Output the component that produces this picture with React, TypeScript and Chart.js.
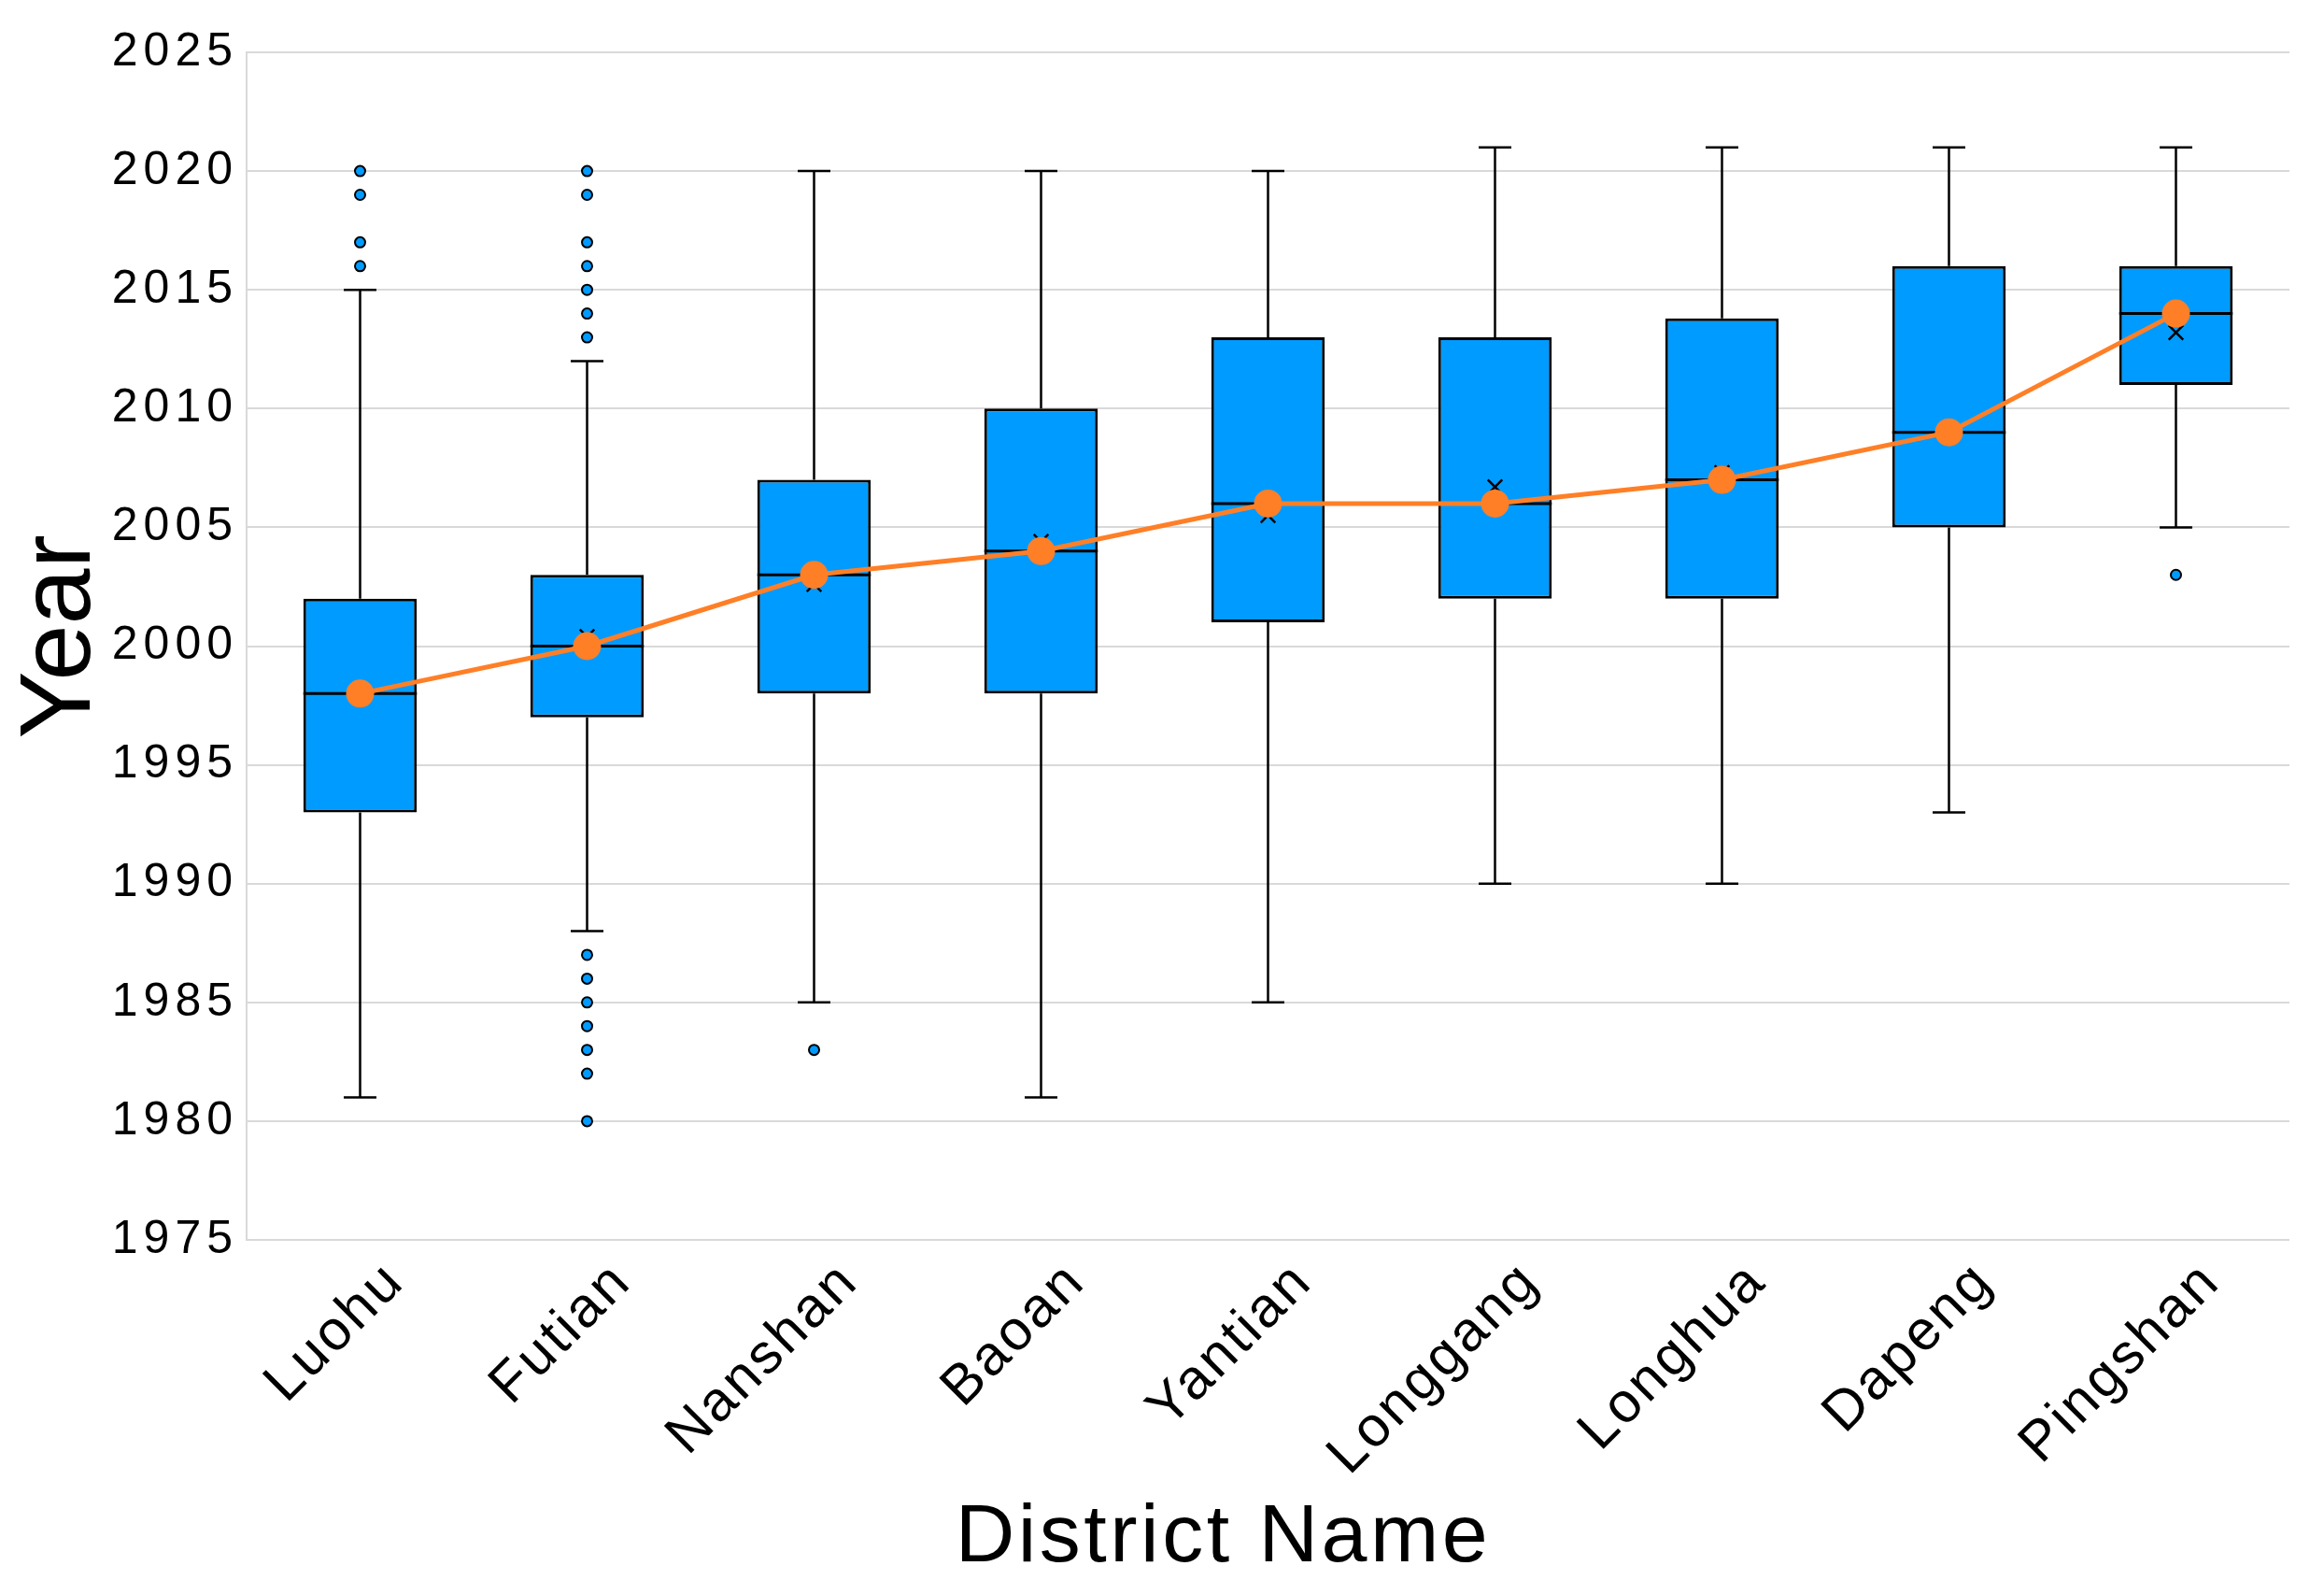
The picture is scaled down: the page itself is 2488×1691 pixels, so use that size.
import React, { useEffect, useRef } from 'react';
import { Chart, registerables } from 'chart.js';

Chart.register(...registerables);

// ---- Data ----
const categories = ['Luohu', 'Futian', 'Nanshan', 'Baoan', 'Yantian', 'Longgang', 'Longhua', 'Dapeng', 'Pingshan'];
const whiskerLow = [1981, 1988, 1985, 1981, 1985, 1990, 1990, 1993, 2005];
const q1 = [1993, 1997, 1998, 1998, 2001, 2002, 2002, 2005, 2011];
const median = [1998, 2000, 2003, 2004, 2006, 2006, 2007, 2009, 2014];
const q3 = [2002, 2003, 2007, 2010, 2013, 2013, 2013.8, 2016, 2016];
const whiskerHigh = [2015, 2012, 2020, 2020, 2020, 2021, 2021, 2021, 2021];
const mean = [1997.9, 2000.4, 2002.6, 2004.4, 2005.5, 2006.7, 2007.3, 2009.1, 2013.2];
const outliers = [
  [2016, 2017, 2019, 2020],
  [1980, 1982, 1983, 1984, 1985, 1986, 1987, 2013, 2014, 2015, 2016, 2017, 2019, 2020],
  [1983],
  [],
  [],
  [],
  [],
  [],
  [2003],
];
const yTicks = { min: 1975, max: 2025, step: 5 };
const xTitle = 'District Name';
const yTitle = 'Year';

// ---- Styles ----
const FONT = '"Liberation Sans", Arial, Helvetica, sans-serif';
const BLUE = '#009BFF';
const ORANGE = '#FF7F27';
const GRID = '#d9d9d9';
const CAP = 35;

export default function App() {
  const ref = useRef<HTMLCanvasElement>(null);

  useEffect(() => {
    const canvas = ref.current;
    if (!canvas) return;

    const outlierPoints = categories.flatMap((c, i) => outliers[i].map((v) => ({ x: c, y: v })));

    const spacingPlugin = {
      id: 'tickSpacing',
      beforeDraw(chart: any) {
        const patch = (id: string, sp: string) => {
          const s: any = chart.scales[id];
          if (!s || s.__patched) return;
          const orig = s.drawLabels;
          s.drawLabels = function (area: any) {
            const c = this.ctx;
            c.save();
            c.letterSpacing = sp;
            orig.call(this, area);
            c.restore();
          };
          s.__patched = true;
        };
        patch('x', '3px');
        patch('y', '6px');
      },
    };

    const titlePlugin = {
      id: 'axisTitles',
      afterDraw(chart: any) {
        const { ctx, chartArea } = chart;
        ctx.save();
        ctx.fillStyle = '#000';
        ctx.textBaseline = 'middle';
        ctx.textAlign = 'center';
        // x-axis title
        ctx.font = `88px ${FONT}`;
        (ctx as any).letterSpacing = '3.5px';
        const cx = (chartArea.left + chartArea.right) / 2 - 48;
        ctx.fillText(xTitle, cx, 1647);
        // y-axis title
        (ctx as any).letterSpacing = '0px';
        ctx.font = `108px ${FONT}`;
        ctx.translate(66, (chartArea.top + chartArea.bottom) / 2 - 10);
        ctx.rotate(-Math.PI / 2);
        ctx.fillText(yTitle, 0, 0);
        ctx.restore();
      },
    };

    const boxPlugin = {
      id: 'boxWhiskers',
      beforeDatasetsDraw(chart: any) {
        const { ctx, scales } = chart;
        const xs = scales.x;
        const ys = scales.y;
        ctx.save();
        ctx.strokeStyle = '#000';
        ctx.lineWidth = 2.5;
        categories.forEach((_, i) => {
          const px = xs.getPixelForValue(i);
          const yLo = ys.getPixelForValue(whiskerLow[i]);
          const yQ1 = ys.getPixelForValue(q1[i]);
          const yQ3 = ys.getPixelForValue(q3[i]);
          const yHi = ys.getPixelForValue(whiskerHigh[i]);
          ctx.beginPath();
          ctx.moveTo(px, yHi);
          ctx.lineTo(px, yQ3);
          ctx.moveTo(px, yQ1);
          ctx.lineTo(px, yLo);
          ctx.moveTo(px - CAP / 2, yHi);
          ctx.lineTo(px + CAP / 2, yHi);
          ctx.moveTo(px - CAP / 2, yLo);
          ctx.lineTo(px + CAP / 2, yLo);
          ctx.stroke();
        });
        ctx.restore();
      },
      afterDatasetDraw(chart: any, args: any) {
        if (args.index !== 3) return;
        const { ctx, scales } = chart;
        const ys = scales.y;
        ctx.save();
        ctx.strokeStyle = '#000';
        ctx.lineWidth = 3;
        args.meta.data.forEach((el: any, i: number) => {
          const { x, width } = el.getProps(['x', 'width'], true);
          const ym = ys.getPixelForValue(median[i]);
          ctx.beginPath();
          ctx.moveTo(x - width / 2, ym);
          ctx.lineTo(x + width / 2, ym);
          ctx.stroke();
        });
        ctx.restore();
      },
    };

    const chart = new Chart(canvas, {
      type: 'bar',
      data: {
        labels: categories,
        datasets: [
          {
            type: 'line',
            label: 'Median',
            data: median,
            borderColor: ORANGE,
            backgroundColor: ORANGE,
            borderWidth: 5,
            pointRadius: 15,
            pointBorderWidth: 0,
            pointBackgroundColor: ORANGE,
            tension: 0,
            order: 1,
          } as any,
          {
            type: 'line',
            label: 'Mean',
            data: mean,
            showLine: false,
            pointStyle: 'crossRot',
            pointRadius: 11,
            pointBorderWidth: 2.5,
            pointBorderColor: '#000',
            order: 2,
          } as any,
          {
            type: 'line',
            label: 'Outliers',
            data: outlierPoints,
            showLine: false,
            pointRadius: 5.5,
            pointBackgroundColor: BLUE,
            pointBorderColor: '#000',
            pointBorderWidth: 2,
            order: 2,
          } as any,
          {
            type: 'bar',
            label: 'IQR',
            data: q1.map((v, i) => [v, q3[i]]),
            backgroundColor: BLUE,
            borderColor: '#000',
            borderWidth: 3,
            borderSkipped: false,
            barPercentage: 0.5,
            categoryPercentage: 1,
            grouped: false,
            order: 3,
          } as any,
        ],
      },
      options: {
        responsive: false,
        animation: false,
        devicePixelRatio: 1,
        layout: { padding: { top: 56, right: 37, left: 0, bottom: 0 } },
        plugins: { legend: { display: false }, tooltip: { enabled: false } },
        scales: {
          x: {
            type: 'category',
            grid: { display: false },
            border: { display: false },
            ticks: {
              autoSkip: false,
              maxRotation: 45,
              minRotation: 45,
              padding: 2,
              labelOffset: 38,
              color: '#000',
              font: { family: FONT, size: 60 },
            },
            title: { display: false },
            afterFit(scale: any) {
              scale.height = 364;
            },
          },
          y: {
            type: 'linear',
            min: yTicks.min,
            max: yTicks.max,
            grid: { color: GRID, lineWidth: 2, drawTicks: false },
            border: { display: true, color: GRID, width: 2 },
            ticks: {
              stepSize: yTicks.step,
              padding: 9,
              color: '#000',
              font: { family: FONT, size: 50 },
              callback: (v: any) => String(v),
            },
            title: { display: false },
            afterFit(scale: any) {
              scale.width = 264;
            },
          },
        },
      },
      plugins: [spacingPlugin, boxPlugin, titlePlugin],
    });

    return () => chart.destroy();
  }, []);

  return (
    <div style={{ position: 'absolute', left: 0, top: 0, width: 2488, height: 1691, background: '#fff' }}>
      <canvas ref={ref} width={2488} height={1691} style={{ display: 'block' }} />
    </div>
  );
}
